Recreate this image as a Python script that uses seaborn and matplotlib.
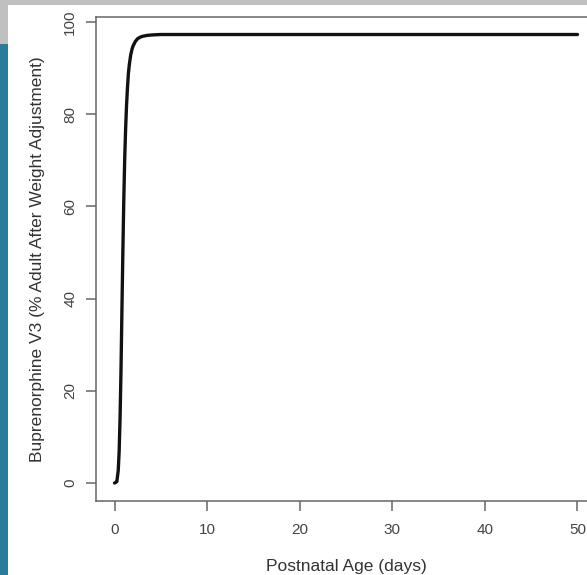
import matplotlib
matplotlib.use("Agg")
import matplotlib.pyplot as plt
from matplotlib.patches import Rectangle
import seaborn as sns
import pandas as pd

# Values
age_days = [0.0, 0.1, 0.25, 0.4, 0.5, 0.6, 0.7, 0.8, 0.9, 1.0, 1.1, 1.2, 1.3,
            1.4, 1.5, 1.6, 1.75, 1.9, 2.0, 2.25, 2.5, 2.75, 3.0, 3.5, 4.0,
            5.0, 10.0, 20.0, 30.0, 40.0, 50.0]
pct_adult = [0.0, 0.1, 0.3, 2.7, 6.8, 14.2, 24.5, 37.5, 50.0, 61.3, 70.3, 76.9,
             82.0, 85.8, 88.9, 90.8, 92.9, 94.2, 94.8, 95.8, 96.4, 96.7, 96.9,
             97.1, 97.2, 97.3, 97.3, 97.3, 97.3, 97.3, 97.3]
x_ticks = [0, 10, 20, 30, 40, 50]
y_ticks = [0, 20, 40, 60, 80, 100]
x_label = "Postnatal Age (days)"
y_label = "Buprenorphine V3 (% Adult After Weight Adjustment)"

df = pd.DataFrame({"age": age_days, "pct": pct_adult})

sns.set_theme(style="ticks")
plt.rcParams["font.family"] = ["Liberation Sans", "DejaVu Sans"]

fig = plt.figure(figsize=(5.87, 5.75), dpi=100)
fig.patch.set_facecolor("white")

# decorative bands of the screenshot
fig.patches.append(Rectangle((0, 1 - 4.6 / 575), 1, 4.6 / 575, transform=fig.transFigure,
                             facecolor="#c0c0c0", edgecolor="none", zorder=0))
fig.patches.append(Rectangle((0, 1 - 44 / 575), 8 / 587, 44 / 575, transform=fig.transFigure,
                             facecolor="#c0c0c0", edgecolor="none", zorder=0))
fig.patches.append(Rectangle((0, 0), 8 / 587, 1 - 44 / 575, transform=fig.transFigure,
                             facecolor="#2b7c9c", edgecolor="none", zorder=0))

ax = fig.add_axes([96 / 587, 74 / 575, 500 / 587, 484 / 575])
sns.lineplot(data=df, x="age", y="pct", ax=ax, color="#111111", linewidth=2.4,
             estimator=None, sort=True)

ax.set_xlim(-2, 52)
ax.set_ylim(-3.9, 101.1)
ax.set_xticks(x_ticks)
ax.set_yticks(y_ticks)
ax.set_xticklabels([str(v) for v in x_ticks])
ax.set_yticklabels([str(v) for v in y_ticks], rotation=90, va="center")

for s in ax.spines.values():
    s.set_visible(True)
    s.set_color("#666666")
    s.set_linewidth(1.1)
ax.tick_params(axis="both", direction="out", length=7.5, width=1.1, color="#666666",
               labelsize=11, labelcolor="#444444")
ax.tick_params(axis="x", pad=8.5)
ax.tick_params(axis="y", pad=6)

ax.set_xlabel(x_label, fontsize=12.5, color="#333333", labelpad=15.5)
ax.set_ylabel(y_label, fontsize=12.5, color="#333333", labelpad=13)

fig.savefig("out.png", dpi=100)
